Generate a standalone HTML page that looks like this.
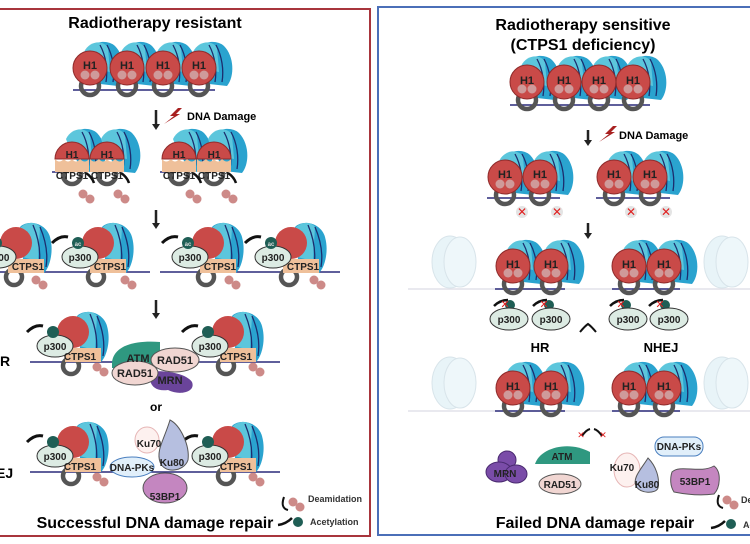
<!DOCTYPE html>
<html><head><meta charset="utf-8"><style>
html,body{margin:0;padding:0;background:#fff;}
svg{display:block;font-family:"Liberation Sans",sans-serif;font-weight:bold;}
</style></head><body>
<svg width="750" height="544" viewBox="0 0 750 544" xmlns="http://www.w3.org/2000/svg">
<defs>
<symbol id="nuc" overflow="visible">
  <path d="M-4,-12 C-2,-26 16,-30 25,-22 C35,-12 36,8 28,18 L10,16 Z" fill="#2aa3cf"/>
  <path d="M-6,-16 C0,-28 14,-28 18,-20 L20,4 L0,0 Z" fill="#5cc6dc"/>
  <path d="M10,-23 C16,-12 18,2 16,14 M17,-23 C23,-12 25,2 23,14" stroke="#1c2d6e" stroke-width="1.3" fill="none"/>
  <circle cx="0" cy="18" r="9" fill="none" stroke="#555" stroke-width="4.5"/>
  <circle cx="0" cy="0" r="17" fill="#c94a48" stroke="#8e2a2a" stroke-width="1"/>
  <circle cx="-5" cy="7" r="4.5" fill="#cf9a9a"/><circle cx="5" cy="7" r="4.5" fill="#cf9a9a"/>
</symbol>
<symbol id="nucr" overflow="visible">
  <path d="M-4,-12 C-2,-26 16,-30 25,-22 C35,-12 36,8 28,18 L10,16 Z" fill="#2aa3cf"/>
  <path d="M-6,-16 C0,-28 14,-28 18,-20 L20,4 L0,0 Z" fill="#5cc6dc"/>
  <path d="M10,-23 C16,-12 18,2 16,14 M17,-23 C23,-12 25,2 23,14" stroke="#1c2d6e" stroke-width="1.3" fill="none"/>
  <circle cx="0" cy="20" r="9" fill="none" stroke="#555" stroke-width="4.5"/>
  <path d="M-17,4 A17,17 0 1 1 17,4 Z" fill="#c94a48" stroke="#8e2a2a" stroke-width="1"/>
  <path d="M-17,4 L-17,17 L17,17 L17,4 Q13,9 8,4 Q4,9 0,4 Q-4,9 -8,4 Q-13,9 -17,4Z" fill="#efc09a"/>
  <path d="M14,18 Q20,22 22,28" stroke="#111" stroke-width="2.5" fill="none"/>
</symbol>
<symbol id="hex2" overflow="visible">
  <circle cx="0" cy="0" r="4.5" fill="#cd8a88"/><circle cx="7" cy="5" r="4.5" fill="#cd8a88"/>
</symbol>
<symbol id="acu" overflow="visible">
  <path d="M22,-30 C30,-38 48,-34 52,-20 C56,-6 52,10 46,16 L26,12 Z" fill="#2aa3cf"/>
  <path d="M20,-26 C26,-36 38,-36 42,-30 L40,4 L24,0 Z" fill="#5cc6dc"/>
  <path d="M35,-32 C41,-18 43,-4 41,10 M42,-30 C48,-16 50,-2 48,10" stroke="#1c2d6e" stroke-width="1.3" fill="none"/>
  <circle cx="18" cy="-14" r="16" fill="#c94a48"/>
  <circle cx="16" cy="20" r="8" fill="none" stroke="#555" stroke-width="4.5"/>
  <path d="M10,2 L46,2 L46,16 L10,16 Z" fill="#efc09a"/>
  <ellipse cx="0" cy="0" rx="18" ry="11" fill="#dcebe3" stroke="#333" stroke-width="1"/>
  <circle cx="-2" cy="-14" r="6" fill="#1f5e55"/>
  <path d="M-28,-14 Q-20,-22 -12,-20" stroke="#111" stroke-width="3" fill="none"/>
</symbol>
<symbol id="faded" overflow="visible">
  <ellipse cx="0" cy="0" rx="18" ry="26" fill="#e8f4f8" stroke="#d8e4ea"/>
  <ellipse cx="10" cy="0" rx="16" ry="25" fill="#eef7fa" stroke="#d8e4ea"/>
</symbol>
</defs>

<rect x="-2" y="9" width="372" height="527" fill="none" stroke="#a8353c" stroke-width="2"/>
<rect x="378" y="7" width="380" height="528" fill="none" stroke="#4b6fb8" stroke-width="2"/>

<!-- LEFT -->
<text x="155" y="28" font-size="16" text-anchor="middle">Radiotherapy resistant</text>
<line x1="73" y1="90" x2="215" y2="90" stroke="#2a2a7a" stroke-width="1.5"/>
<use href="#nuc" x="90" y="68"/><use href="#nuc" x="127" y="68"/><use href="#nuc" x="163" y="68"/><use href="#nuc" x="199" y="68"/>
<g font-size="11" text-anchor="middle" fill="#222"><text x="90" y="69">H1</text><text x="127" y="69">H1</text><text x="163" y="69">H1</text><text x="199" y="69">H1</text></g>
<line x1="156" y1="110" x2="156" y2="125" stroke="#222" stroke-width="2.5"/><path d="M152,124 L160,124 L156,130Z" fill="#222"/>
<path d="M178,108 L170,116 L174,116 L164,124 L180,114 L176,114 L182,108Z" fill="#a82020"/>
<text x="187" y="120" font-size="11">DNA Damage</text>

<line x1="52" y1="172" x2="60" y2="172" stroke="#2a2a7a" stroke-width="1.5"/><line x1="160" y1="172" x2="168" y2="172" stroke="#2a2a7a" stroke-width="1.5"/>
<use href="#nucr" x="72" y="155"/><use href="#nucr" x="107" y="155"/><use href="#nucr" x="179" y="155"/><use href="#nucr" x="214" y="155"/>
<g font-size="10" text-anchor="middle" fill="#222">
<text x="72" y="158">H1</text><text x="107" y="158">H1</text><text x="179" y="158">H1</text><text x="214" y="158">H1</text>
<text x="72" y="179">CTPS1</text><text x="107" y="179">CTPS1</text><text x="179" y="179">CTPS1</text><text x="214" y="179">CTPS1</text></g>
<use href="#hex2" x="83" y="194"/><use href="#hex2" x="118" y="194"/><use href="#hex2" x="190" y="194"/><use href="#hex2" x="226" y="194"/>
<line x1="156" y1="210" x2="156" y2="224" stroke="#222" stroke-width="2.5"/><path d="M152,223 L160,223 L156,229Z" fill="#222"/>

<line x1="0" y1="272" x2="150" y2="272" stroke="#2a2a7a" stroke-width="1.5"/><line x1="160" y1="272" x2="340" y2="272" stroke="#2a2a7a" stroke-width="1.5"/>
<use href="#acu" x="-2" y="257"/><use href="#acu" x="80" y="257"/><use href="#acu" x="190" y="257"/><use href="#acu" x="273" y="257"/>
<g font-size="10" text-anchor="middle" fill="#222">
<text x="-2" y="261">p300</text><text x="80" y="261">p300</text><text x="190" y="261">p300</text><text x="273" y="261">p300</text>
<text x="28" y="270">CTPS1</text><text x="110" y="270">CTPS1</text><text x="220" y="270">CTPS1</text><text x="303" y="270">CTPS1</text></g>
<g font-size="6" fill="#ddd" text-anchor="middle"><text x="78" y="246">ac</text><text x="188" y="246">ac</text><text x="271" y="246">ac</text></g>
<use href="#hex2" x="36" y="280"/><use href="#hex2" x="125" y="280"/><use href="#hex2" x="229" y="280"/><use href="#hex2" x="314" y="280"/>
<line x1="156" y1="300" x2="156" y2="314" stroke="#222" stroke-width="2.5"/><path d="M152,313 L160,313 L156,319Z" fill="#222"/>

<!-- HR -->
<text x="0" y="366" font-size="14">R</text>
<line x1="30" y1="362" x2="280" y2="362" stroke="#2a2a7a" stroke-width="1.5"/>
<use href="#acu" x="55" y="346"/><use href="#acu" x="210" y="346"/>
<g font-size="10" text-anchor="middle" fill="#222"><text x="55" y="350">p300</text><text x="210" y="350">p300</text><text x="80" y="360">CTPS1</text><text x="236" y="360">CTPS1</text></g>
<use href="#hex2" x="97" y="367"/><use href="#hex2" x="253" y="367"/>
<path d="M112,362 C114,346 134,340 160,342 L160,368 L112,368Z" fill="#2f9880"/>
<path d="M150,372 C160,370 185,372 192,382 C196,392 180,396 168,390 C154,392 148,384 150,372Z" fill="#6a449a"/>
<ellipse cx="175" cy="360" rx="24" ry="12" fill="#f1d6d2" stroke="#555"/>
<ellipse cx="135" cy="373" rx="23" ry="12" fill="#f1d6d2" stroke="#555"/>
<g font-size="11" text-anchor="middle" fill="#222"><text x="138" y="362">ATM</text><text x="175" y="364">RAD51</text><text x="135" y="377">RAD51</text><text x="170" y="384">MRN</text></g>
<text x="156" y="411" font-size="12" text-anchor="middle">or</text>

<!-- NHEJ -->
<text x="-4" y="478" font-size="14">EJ</text>
<line x1="30" y1="472" x2="280" y2="472" stroke="#2a2a7a" stroke-width="1.5"/>
<use href="#acu" x="55" y="456"/><use href="#acu" x="210" y="456"/>
<g font-size="10" text-anchor="middle" fill="#222"><text x="55" y="460">p300</text><text x="210" y="460">p300</text><text x="80" y="470">CTPS1</text><text x="236" y="470">CTPS1</text></g>
<use href="#hex2" x="97" y="477"/><use href="#hex2" x="253" y="477"/>
<ellipse cx="165" cy="488" rx="22" ry="15" fill="#c486c0" stroke="#555"/>
<ellipse cx="147" cy="440" rx="12" ry="13" fill="#fdf1ef" stroke="#e6b5b5"/>
<path d="M170,420 C180,425 190,445 188,460 C184,472 164,474 160,462 C156,450 164,440 170,420Z" fill="#b6bfe0" stroke="#555"/>
<ellipse cx="132" cy="467" rx="22" ry="10" fill="#e1effa" stroke="#4a7fbf"/>
<g font-size="10" text-anchor="middle" fill="#222"><text x="149" y="447">Ku70</text><text x="172" y="466">Ku80</text><text x="132" y="471">DNA-PKs</text><text x="165" y="500">53BP1</text></g>
<use href="#hex2" x="293" y="502"/><path d="M284,497 Q280,508 288,510" stroke="#111" stroke-width="2" fill="none"/>
<text x="308" y="502" font-size="9" fill="#333">Deamidation</text>
<path d="M278,525 Q286,524 292,518" stroke="#111" stroke-width="2.5" fill="none"/><circle cx="298" cy="522" r="5" fill="#1f5e55"/>
<text x="310" y="525" font-size="9" fill="#333">Acetylation</text>
<text x="155" y="528" font-size="16" text-anchor="middle">Successful DNA damage repair</text>

<!-- RIGHT -->
<text x="583" y="30" font-size="16" text-anchor="middle">Radiotherapy sensitive</text>
<text x="583" y="50" font-size="16" text-anchor="middle">(CTPS1 deficiency)</text>
<line x1="510" y1="105" x2="650" y2="105" stroke="#2a2a7a" stroke-width="1.5"/>
<use href="#nuc" x="527" y="82"/><use href="#nuc" x="564" y="82"/><use href="#nuc" x="599" y="82"/><use href="#nuc" x="633" y="82"/>
<g font-size="11" text-anchor="middle" fill="#222"><text x="527" y="84">H1</text><text x="564" y="84">H1</text><text x="599" y="84">H1</text><text x="633" y="84">H1</text></g>
<line x1="588" y1="130" x2="588" y2="141" stroke="#222" stroke-width="2.5"/><path d="M584,140 L592,140 L588,146Z" fill="#222"/>
<path d="M613,126 L605,134 L609,134 L599,142 L615,132 L611,132 L617,126Z" fill="#a82020"/>
<text x="619" y="139" font-size="11">DNA Damage</text>

<line x1="487" y1="198" x2="560" y2="198" stroke="#2a2a7a" stroke-width="1.5"/><line x1="596" y1="198" x2="670" y2="198" stroke="#2a2a7a" stroke-width="1.5"/>
<use href="#nuc" x="505" y="177"/><use href="#nuc" x="540" y="177"/><use href="#nuc" x="614" y="177"/><use href="#nuc" x="650" y="177"/>
<g font-size="11" text-anchor="middle" fill="#222"><text x="505" y="178">H1</text><text x="540" y="178">H1</text><text x="614" y="178">H1</text><text x="650" y="178">H1</text></g>
<g fill="#e4e4e4"><circle cx="522" cy="212" r="6"/><circle cx="557" cy="212" r="6"/><circle cx="631" cy="212" r="6"/><circle cx="666" cy="212" r="6"/></g>
<g font-size="12" fill="#e02020" text-anchor="middle" font-weight="normal"><text x="522" y="216">✕</text><text x="557" y="216">✕</text><text x="631" y="216">✕</text><text x="666" y="216">✕</text></g>
<line x1="588" y1="223" x2="588" y2="234" stroke="#222" stroke-width="2.5"/><path d="M584,233 L592,233 L588,239Z" fill="#222"/>

<!-- row 3 right -->
<line x1="408" y1="289" x2="750" y2="289" stroke="#e2e2ea" stroke-width="1.5"/>
<use href="#faded" x="450" y="262"/><use href="#faded" x="722" y="262"/>
<line x1="495" y1="289" x2="565" y2="289" stroke="#2a2a7a" stroke-width="1.5"/><line x1="612" y1="289" x2="680" y2="289" stroke="#2a2a7a" stroke-width="1.5"/>
<use href="#nuc" x="513" y="266"/><use href="#nuc" x="551" y="266"/><use href="#nuc" x="629" y="266"/><use href="#nuc" x="664" y="266"/>
<g font-size="11" text-anchor="middle" fill="#222"><text x="513" y="268">H1</text><text x="551" y="268">H1</text><text x="629" y="268">H1</text><text x="664" y="268">H1</text></g>
<g stroke="#111" stroke-width="2.5" fill="none"><path d="M494,306 Q500,300 508,300"/><path d="M533,306 Q539,300 547,300"/><path d="M610,306 Q616,300 624,300"/><path d="M649,306 Q655,300 663,300"/></g>
<g fill="#1f5e55"><circle cx="510" cy="305" r="5"/><circle cx="549" cy="305" r="5"/><circle cx="626" cy="305" r="5"/><circle cx="665" cy="305" r="5"/></g>
<g fill="#dcebe3" stroke="#333"><ellipse cx="509" cy="319" rx="19" ry="11"/><ellipse cx="551" cy="319" rx="19" ry="11"/><ellipse cx="628" cy="319" rx="19" ry="11"/><ellipse cx="669" cy="319" rx="19" ry="11"/></g>
<g font-size="10" text-anchor="middle" fill="#222"><text x="509" y="323">p300</text><text x="551" y="323">p300</text><text x="628" y="323">p300</text><text x="669" y="323">p300</text></g>
<g font-size="11" fill="#e02020" text-anchor="middle" font-weight="normal"><text x="505" y="308">✕</text><text x="544" y="308">✕</text><text x="621" y="308">✕</text><text x="660" y="308">✕</text></g>
<path d="M580,332 Q585,326 588,324 Q591,326 596,332" stroke="#111" stroke-width="2" fill="none"/>
<text x="540" y="352" font-size="13" text-anchor="middle">HR</text>
<text x="661" y="352" font-size="13" text-anchor="middle">NHEJ</text>

<!-- row 4 right -->
<line x1="408" y1="411" x2="750" y2="411" stroke="#e2e2ea" stroke-width="1.5"/>
<use href="#faded" x="450" y="383"/><use href="#faded" x="722" y="383"/>
<line x1="495" y1="411" x2="565" y2="411" stroke="#2a2a7a" stroke-width="1.5"/><line x1="612" y1="411" x2="680" y2="411" stroke="#2a2a7a" stroke-width="1.5"/>
<use href="#nuc" x="513" y="388"/><use href="#nuc" x="551" y="388"/><use href="#nuc" x="629" y="388"/><use href="#nuc" x="664" y="388"/>
<g font-size="11" text-anchor="middle" fill="#222"><text x="513" y="390">H1</text><text x="551" y="390">H1</text><text x="629" y="390">H1</text><text x="664" y="390">H1</text></g>
<path d="M582,436 Q586,430 590,429 M594,429 Q598,430 602,436" stroke="#111" stroke-width="2" fill="none"/>
<g font-size="9" fill="#e02020" text-anchor="middle" font-weight="normal"><text x="581" y="438">✕</text><text x="603" y="438">✕</text></g>

<!-- bottom proteins right -->
<g fill="#7a4ca8" stroke="#4a2a70"><circle cx="507" cy="460" r="9"/><ellipse cx="499" cy="472" rx="13" ry="10"/><ellipse cx="516" cy="474" rx="11" ry="9"/></g>
<text x="505" y="477" font-size="10" text-anchor="middle" fill="#222">MRN</text>
<path d="M535,464 C540,448 568,440 590,452 L590,464 Z" fill="#2f9880"/>
<text x="562" y="460" font-size="10" text-anchor="middle" fill="#222">ATM</text>
<ellipse cx="560" cy="484" rx="21" ry="10" fill="#f1d6d2" stroke="#555"/>
<text x="560" y="488" font-size="10" text-anchor="middle" fill="#222">RAD51</text>
<ellipse cx="627" cy="470" rx="13" ry="17" fill="#fdf1ef" stroke="#e6b5b5"/>
<path d="M648,458 C656,466 660,478 658,488 C656,494 640,494 636,486 C632,478 642,468 648,458Z" fill="#b6bfe0" stroke="#555"/>
<text x="622" y="471" font-size="10" text-anchor="middle" fill="#222">Ku70</text>
<text x="647" y="488" font-size="10" text-anchor="middle" fill="#222">Ku80</text>
<rect x="655" y="437" width="48" height="19" rx="9" fill="#e1effa" stroke="#4a7fbf"/>
<text x="679" y="450" font-size="10" text-anchor="middle" fill="#222">DNA-PKs</text>
<path d="M672,472 C680,464 700,474 714,466 C722,472 720,488 714,494 C700,496 684,494 674,492 C670,486 670,478 672,472Z" fill="#c486c0" stroke="#555"/>
<text x="695" y="485" font-size="10" text-anchor="middle" fill="#222">53BP1</text>
<use href="#hex2" x="727" y="500"/><path d="M719,495 Q715,506 723,508" stroke="#111" stroke-width="2" fill="none"/>
<text x="741" y="503" font-size="9" fill="#333">Deamidation</text>
<path d="M711,528 Q719,527 725,521" stroke="#111" stroke-width="2.5" fill="none"/><circle cx="731" cy="524" r="5" fill="#1f5e55"/>
<text x="743" y="528" font-size="9" fill="#333">Acetylation</text>
<text x="595" y="528" font-size="16" text-anchor="middle">Failed DNA damage repair</text>
</svg>
</body></html>
